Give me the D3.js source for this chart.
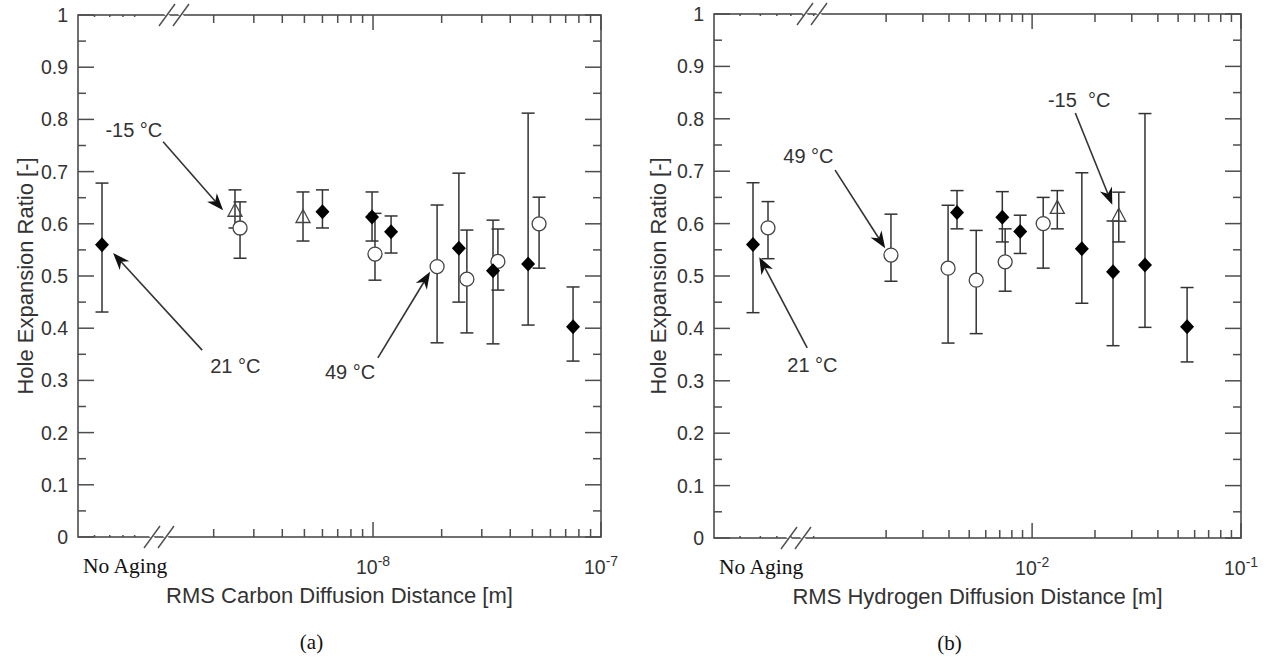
<!DOCTYPE html>
<html>
<head>
<meta charset="utf-8">
<script src="https://cdn.jsdelivr.net/npm/d3@7"></script>
<style>
  body { margin: 0; background: #fff; }
  text { font-family: "Liberation Sans", Arial, sans-serif; fill: #333; }
  .serif { font-family: "Liberation Serif", "Times New Roman", serif; fill: #111; }
</style>
</head>
<body>
<div id="chart"></div>
<script>
///////////////////////////////////////////////////////////////////////////
////////////////////////////// Data ///////////////////////////////////////
///////////////////////////////////////////////////////////////////////////

// (a) carbon diffusion distance [m]
var carbonNoAging = [{ key: "diamond", v: 0.56, lo: 0.431, hi: 0.678 }];
var carbonDiamondX  = [6.0e-9, 9.9e-9, 1.2e-8, 2.38e-8, 3.36e-8, 4.79e-8, 7.54e-8];
var carbonDiamondV  = [0.623, 0.613, 0.585, 0.553, 0.51, 0.523, 0.403];
var carbonDiamondHi = [0.665, 0.661, 0.615, 0.697, 0.607, 0.812, 0.479];
var carbonDiamondLo = [0.592, 0.567, 0.544, 0.45, 0.37, 0.406, 0.337];
var carbonCircleX  = [2.61e-9, 1.02e-8, 1.91e-8, 2.58e-8, 3.53e-8, 5.35e-8];
var carbonCircleV  = [0.592, 0.542, 0.518, 0.494, 0.528, 0.6];
var carbonCircleHi = [0.642, 0.62, 0.636, 0.588, 0.59, 0.651];
var carbonCircleLo = [0.534, 0.492, 0.372, 0.391, 0.473, 0.515];
var carbonTriangleX  = [2.48e-9, 4.93e-9];
var carbonTriangleV  = [0.625, 0.613];
var carbonTriangleHi = [0.665, 0.661];
var carbonTriangleLo = [0.592, 0.567];

// (b) hydrogen diffusion distance [m]
var hydrogenNoAging = [
  { key: "diamond", v: 0.56, lo: 0.43, hi: 0.678 },
  { key: "circle", v: 0.592, lo: 0.533, hi: 0.642 }
];
var hydrogenDiamondX  = [4.37e-3, 7.2e-3, 8.77e-3, 1.73e-2, 2.44e-2, 3.47e-2, 5.52e-2];
var hydrogenDiamondV  = [0.621, 0.612, 0.585, 0.552, 0.508, 0.521, 0.403];
var hydrogenDiamondHi = [0.663, 0.661, 0.616, 0.697, 0.605, 0.81, 0.478];
var hydrogenDiamondLo = [0.59, 0.565, 0.543, 0.448, 0.367, 0.402, 0.336];
var hydrogenCircleX  = [2.11e-3, 3.96e-3, 5.4e-3, 7.43e-3, 1.13e-2];
var hydrogenCircleV  = [0.54, 0.515, 0.492, 0.527, 0.6];
var hydrogenCircleHi = [0.618, 0.635, 0.587, 0.59, 0.65];
var hydrogenCircleLo = [0.49, 0.372, 0.39, 0.471, 0.515];
var hydrogenTriangleX  = [1.32e-2, 2.6e-2];
var hydrogenTriangleV  = [0.63, 0.615];
var hydrogenTriangleHi = [0.663, 0.66];
var hydrogenTriangleLo = [0.59, 0.565];

var yTicks = d3.range(0, 1.0001, 0.1);

// annotations: text, text anchor, arrow tail, arrow tip (data units)
var carbonNotes = [
  { text: "-15 °C", at: [6.7e-10, 0.766], tail: [1.2e-9, 0.757], tip: [2.2e-9, 0.626] },
  { text: "21 °C", at: [1.93e-9, 0.314], tail: [1.78e-9, 0.358], tip: [7.24e-10, 0.544] },
  { text: "49 °C", at: [6.15e-9, 0.303], tail: [1.05e-8, 0.343], tip: [1.78e-8, 0.508] }
];
var hydrogenNotes = [
  { text: "49 °C", at: [6.44e-4, 0.716], tail: [1.14e-3, 0.702], tip: [1.98e-3, 0.553] },
  { text: "-15  °C", at: [1.19e-2, 0.823], tail: [1.61e-2, 0.811], tip: [2.42e-2, 0.636] },
  { text: "21 °C", at: [6.73e-4, 0.317], tail: [8.38e-4, 0.363], tip: [4.94e-4, 0.536] }
];

function zipSeries(xs, vs, his, los) {
  return xs.map(function(x, i) { return { x: x, v: vs[i], hi: his[i], lo: los[i] }; });
}

var panels = [
  {
    left: 78, right: 601, top: 15, bottom: 537,
    domain: [5.08e-10, 1e-7],
    decades: [-8, -7], firstMinor: -9,
    hiddenMinor: [6e-10, 7e-10, 8e-10, 9e-10],
    noAging: carbonNoAging, noAgingRange: [96, 108],
    diamonds: zipSeries(carbonDiamondX, carbonDiamondV, carbonDiamondHi, carbonDiamondLo),
    circles: zipSeries(carbonCircleX, carbonCircleV, carbonCircleHi, carbonCircleLo),
    triangles: zipSeries(carbonTriangleX, carbonTriangleV, carbonTriangleHi, carbonTriangleLo),
    notes: carbonNotes,
    xLabel: "RMS Carbon Diffusion Distance [m]",
    caption: "(a)",
    breakTop: 174, breakBottom: 159,
    yLabelX: 33
  },
  {
    left: 714, right: 1241, top: 14, bottom: 538,
    domain: [3.0e-4, 1e-1],
    decades: [-2, -1], firstMinor: -3,
    hiddenMinor: [4e-4, 5e-4, 6e-4, 7e-4, 8e-4, 9e-4],
    noAging: hydrogenNoAging, noAgingRange: [753, 768],
    diamonds: zipSeries(hydrogenDiamondX, hydrogenDiamondV, hydrogenDiamondHi, hydrogenDiamondLo),
    circles: zipSeries(hydrogenCircleX, hydrogenCircleV, hydrogenCircleHi, hydrogenCircleLo),
    triangles: zipSeries(hydrogenTriangleX, hydrogenTriangleV, hydrogenTriangleHi, hydrogenTriangleLo),
    notes: hydrogenNotes,
    xLabel: "RMS Hydrogen Diffusion Distance [m]",
    caption: "(b)",
    breakTop: 812, breakBottom: 796,
    yLabelX: 666
  }
];

///////////////////////////////////////////////////////////////////////////
//////////////////////////// SVG container ////////////////////////////////
///////////////////////////////////////////////////////////////////////////

var width = 1266, height = 657;
var svg = d3.select("#chart").append("svg")
    .attr("width", width)
    .attr("height", height);

var axisColor = "#4d4d4d";
var diamondPath = "M0,-7.5L7,0L0,7.5L-7,0Z";
var trianglePath = "M0,-7.5L7,5.5L-7,5.5Z";

function arrowHead(g, tail, tip) {
    var ang = Math.atan2(tip[1] - tail[1], tip[0] - tail[0]);
    var len = 17, half = 6.5;
    var bx = tip[0] - len * Math.cos(ang), by = tip[1] - len * Math.sin(ang);
    var nx = -Math.sin(ang) * half, ny = Math.cos(ang) * half;
    var ix = tip[0] - len * 0.7 * Math.cos(ang), iy = tip[1] - len * 0.7 * Math.sin(ang);
    g.append("line")
        .attr("x1", tail[0]).attr("y1", tail[1])
        .attr("x2", ix).attr("y2", iy)
        .style("stroke", "#333").style("stroke-width", 1.6);
    g.append("path")
        .attr("d", "M" + tip[0] + "," + tip[1] + "L" + (bx + nx) + "," + (by + ny) +
                   "L" + ix + "," + iy + "L" + (bx - nx) + "," + (by - ny) + "Z")
        .style("fill", "#111");
}

panels.forEach(function(p) {
    var g = svg.append("g");

    var x = d3.scaleLog().domain(p.domain).range([p.left, p.right]);
    var y = d3.scaleLinear().domain([0, 1]).range([p.bottom, p.top]);
    var xNo = d3.scalePoint().domain(p.noAging.map(function(d) { return d.key; }))
        .range(p.noAgingRange).align(0.5);

    //Frame
    g.append("rect")
        .attr("x", p.left).attr("y", p.top)
        .attr("width", p.right - p.left).attr("height", p.bottom - p.top)
        .style("fill", "none").style("stroke", axisColor).style("stroke-width", 1.6);

    //Y ticks, both sides, inward
    var yMinor = d3.range(0.05, 1, 0.1);
    [p.left, p.right].forEach(function(x0, side) {
        var dir = side === 0 ? 1 : -1;
        g.selectAll(null).data(yTicks).enter().append("line")
            .attr("x1", x0).attr("x2", x0 + dir * 16)
            .attr("y1", function(d) { return y(d); }).attr("y2", function(d) { return y(d); })
            .style("stroke", axisColor).style("stroke-width", 1.5);
        g.selectAll(null).data(yMinor).enter().append("line")
            .attr("x1", x0).attr("x2", x0 + dir * 8)
            .attr("y1", function(d) { return y(d); }).attr("y2", function(d) { return y(d); })
            .style("stroke", axisColor).style("stroke-width", 1.5);
    });

    g.selectAll(null).data(yTicks).enter().append("text")
        .attr("x", p.left - 10)
        .attr("y", function(d) { return y(d); })
        .attr("dy", "0.36em")
        .attr("text-anchor", "end")
        .style("font-size", "19.5px")
        .text(function(d) { return d3.format("")(+d.toFixed(1)); });

    //X ticks (log), top and bottom, inward
    var minor = [];
    for (var e = p.firstMinor; e < p.decades[1]; e++) {
        for (var k = 2; k <= 9; k++) {
            minor.push(k * Math.pow(10, e));
        }
    }
    minor = minor.filter(function(v) { return v > Math.pow(10, p.firstMinor) * 1.5 && v < p.domain[1]; });
    var majors = p.decades.map(function(e) { return Math.pow(10, e); });

    [[p.bottom, -1], [p.top, 1]].forEach(function(s) {
        var y0 = s[0], dir = s[1];
        g.selectAll(null).data(minor).enter().append("line")
            .attr("x1", function(d) { return x(d); }).attr("x2", function(d) { return x(d); })
            .attr("y1", y0).attr("y2", y0 + dir * 8)
            .style("stroke", axisColor).style("stroke-width", 1.5);
        g.selectAll(null).data(majors).enter().append("line")
            .attr("x1", function(d) { return x(d); }).attr("x2", function(d) { return x(d); })
            .attr("y1", y0).attr("y2", y0 + dir * 15)
            .style("stroke", axisColor).style("stroke-width", 1.5);
        g.selectAll(null).data(p.hiddenMinor).enter().append("line")
            .attr("x1", function(d) { return x(d); }).attr("x2", function(d) { return x(d); })
            .attr("y1", y0).attr("y2", y0 + dir * 2)
            .style("stroke", axisColor).style("stroke-width", 1.5);
    });

    //Decade labels
    var lbl = g.selectAll(null).data(p.decades).enter().append("text")
        .attr("x", function(d) { return x(Math.pow(10, d)); })
        .attr("y", p.bottom + 37)
        .attr("text-anchor", "middle")
        .style("font-size", "19.5px");
    lbl.append("tspan").text("10");
    lbl.append("tspan").attr("dy", -8).style("font-size", "14px").text(function(d) { return "-" + Math.abs(d); });

    g.append("text")
        .attr("class", "serif")
        .attr("x", p.left + 5)
        .attr("y", p.bottom + 36)
        .style("font-size", "21.5px")
        .text("No Aging");

    //Axis break marks
    [[p.top, p.breakTop], [p.bottom, p.breakBottom]].forEach(function(b) {
        [-7, 7].forEach(function(off) {
            var cx = b[1] + off;
            g.append("line")
                .attr("x1", cx - 4).attr("x2", cx + 4)
                .attr("y1", b[0] - 4).attr("y2", b[0] + 4)
                .style("stroke", "#fff").style("stroke-width", 3);
            g.append("line")
                .attr("x1", cx - 8).attr("y1", b[0] + 11)
                .attr("x2", cx + 8).attr("y2", b[0] - 11)
                .style("stroke", axisColor).style("stroke-width", 1.4);
        });
    });

    //Axis titles
    g.append("text")
        .attr("x", (p.left + p.right) / 2)
        .attr("y", p.bottom + 66)
        .attr("text-anchor", "middle")
        .style("font-size", "22px")
        .text(p.xLabel);

    g.append("text")
        .attr("transform", "translate(" + p.yLabelX + "," + ((p.top + p.bottom) / 2) + ") rotate(-90)")
        .attr("text-anchor", "middle")
        .style("font-size", "22px")
        .text("Hole Expansion Ratio [-]");

    g.append("text")
        .attr("class", "serif")
        .attr("x", (p.left + p.right) / 2 - 28)
        .attr("y", p.bottom + 112)
        .attr("text-anchor", "middle")
        .style("font-size", "21px")
        .text(p.caption);

    //Points with error bars
    var pts = [];
    p.noAging.forEach(function(d) { pts.push({ px: xNo(d.key), v: d.v, hi: d.hi, lo: d.lo, shape: d.key }); });
    p.triangles.forEach(function(d) { pts.push({ px: x(d.x), v: d.v, hi: d.hi, lo: d.lo, shape: "triangle" }); });
    p.circles.forEach(function(d) { pts.push({ px: x(d.x), v: d.v, hi: d.hi, lo: d.lo, shape: "circle" }); });
    p.diamonds.forEach(function(d) { pts.push({ px: x(d.x), v: d.v, hi: d.hi, lo: d.lo, shape: "diamond" }); });

    var capW = 6.5;
    pts.forEach(function(d) {
        g.append("line")
            .attr("x1", d.px).attr("x2", d.px)
            .attr("y1", y(d.hi)).attr("y2", y(d.lo))
            .style("stroke", "#333").style("stroke-width", 1.5);
        [d.hi, d.lo].forEach(function(c) {
            g.append("line")
                .attr("x1", d.px - capW).attr("x2", d.px + capW)
                .attr("y1", y(c)).attr("y2", y(c))
                .style("stroke", "#333").style("stroke-width", 1.5);
        });
    });
    pts.forEach(function(d) {
        var t = "translate(" + d.px + "," + y(d.v) + ")";
        if (d.shape === "circle") {
            g.append("circle").attr("transform", t).attr("r", 7)
                .style("fill", "#fff").style("stroke", "#444").style("stroke-width", 1.3);
        } else if (d.shape === "triangle") {
            g.append("path").attr("transform", t).attr("d", trianglePath)
                .style("fill", "none").style("stroke", "#444").style("stroke-width", 1.3);
        } else {
            g.append("path").attr("transform", t).attr("d", diamondPath)
                .style("fill", "#000");
        }
    });

    //Annotations
    p.notes.forEach(function(n) {
        g.append("text")
            .attr("x", x(n.at[0])).attr("y", y(n.at[1]))
            .style("font-size", "20px")
            .style("white-space", "pre")
            .text(n.text);
        arrowHead(g, [x(n.tail[0]), y(n.tail[1])], [x(n.tip[0]), y(n.tip[1])]);
    });
});
</script>
</body>
</html>
